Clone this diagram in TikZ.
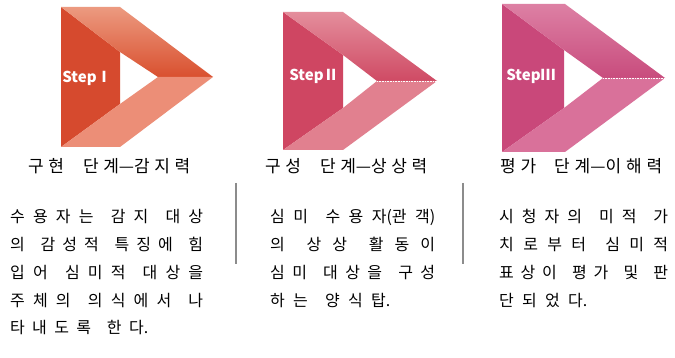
\documentclass[tikz,border=0pt]{standalone}
\usepackage{fontspec}
\setmainfont{Noto Sans CJK KR}
\newXeTeXintercharclass\hangulclass
\newcount\hangulcode
\hangulcode="AC00
\loop
  \XeTeXcharclass\hangulcode=\hangulclass
  \ifnum\hangulcode<"D7A3 \advance\hangulcode by 1
\repeat
\XeTeXinterchartoks\hangulclass\hangulclass={\hskip 0pt plus 1pt\relax}
\newcommand{\spreadline}[2]{\makebox[#1][s]{\XeTeXinterchartokenstate=1 \spaceskip=5pt plus 1.5pt\relax #2}}

\definecolor{stepIdark}{HTML}{D64A2E}
\definecolor{stepIlight}{HTML}{EC9A80}
\definecolor{stepItip}{HTML}{D9502F}
\definecolor{stepIlow}{HTML}{EC8E77}
\definecolor{stepIIdark}{HTML}{CF4662}
\definecolor{stepIIlight}{HTML}{E48E9C}
\definecolor{stepIItip}{HTML}{CF4A64}
\definecolor{stepIIlow}{HTML}{E1808F}
\definecolor{stepIIIdark}{HTML}{C9487A}
\definecolor{stepIIIlight}{HTML}{DD80A4}
\definecolor{stepIIItip}{HTML}{C84C7D}
\definecolor{stepIIIlow}{HTML}{D9719A}
\definecolor{dividergray}{HTML}{8C8C8C}

\tikzset{
  steplabel/.style={text=white, font=\bfseries\fontsize{15}{15}\selectfont, inner sep=0pt},
  steptitle/.style={font=\fontsize{17}{20}\selectfont, inner sep=0pt, anchor=base west},
  bodyline/.style={font=\fontsize{16}{19}\selectfont, inner sep=0pt, anchor=base west},
  divider/.style={draw=dividergray, line width=1.6pt},
}

\begin{document}
\begin{tikzpicture}[x=1pt,y=-1pt]
\fill[white] (0,0) rectangle (675,358);
\useasboundingbox (0,0) rectangle (675,358);

% Step I
\fill[stepIdark] (61,7) -- (120,52) -- (120,104) -- (61,147) -- cycle;
\shade[top color=stepIlight, bottom color=stepItip] (61,7) -- (120,7) -- (213,77) -- (158,77) -- (120,52) -- cycle;
\fill[stepIlow] (61,147) -- (120,104) -- (158,77) -- (213,77) -- (120,147) -- cycle;
\node[steplabel] (stepI) at (87,78) {StepⅠ};

% Step II
\fill[stepIIdark] (283,12) -- (343,55) -- (343,108) -- (283,150) -- cycle;
\shade[top color=stepIIlight, bottom color=stepIItip] (283,12) -- (343,12) -- (437,81) -- (377,81) -- (343,55) -- cycle;
\fill[stepIIlow] (283,150) -- (343,108) -- (377,81) -- (437,81) -- (343,150) -- cycle;
\draw[white, densely dotted, line width=0.6pt] (377,81) -- (437,81);
\node[steplabel] (stepII) at (314,76) {StepⅡ};

% Step III
\fill[stepIIIdark] (502,4) -- (564,50) -- (564,108) -- (502,152) -- cycle;
\shade[top color=stepIIIlight, bottom color=stepIIItip] (502,4) -- (565,4) -- (665,78) -- (603,78) -- (564,50) -- cycle;
\fill[stepIIIlow] (502,152) -- (564,108) -- (603,78) -- (665,78) -- (565,152) -- cycle;
\draw[white, densely dotted, line width=0.6pt] (603,78) -- (665,78);
\node[steplabel] (stepIII) at (531,76) {StepⅢ};

% titles
\node[steptitle] (titleI) at (28,173) {\spreadline{162pt}{구현\hspace{10pt plus 2pt}단계—감지력}};
\node[steptitle] (titleII) at (265,173) {\spreadline{162pt}{구성\hspace{10pt plus 2pt}단계—상상력}};
\node[steptitle] (titleIII) at (500,173) {\spreadline{162pt}{평가\hspace{8pt plus 2pt}단계—이해력}};

% dividers
\draw[divider] (236,183) -- (236,264);
\draw[divider] (463,183) -- (463,264);

% column 1
\node[bodyline] (textIa) at (10,223) {\spreadline{193pt}{수용자는 감지 대상}};
\node[bodyline] (textIb) at (10,251) {\spreadline{193pt}{의 감성적 특징에 힘}};
\node[bodyline] (textIc) at (10,279) {\spreadline{193pt}{입어 심미적 대상을}};
\node[bodyline] (textId) at (10,306) {\spreadline{193pt}{주체의 의식에서 나}};
\node[bodyline] (textIe) at (10,334) {\spreadline{138pt}{타내도록 한다.}};

% column 2
\node[bodyline] (textIIa) at (270,223) {\spreadline{165pt}{심미 수용자(관객)}};
\node[bodyline] (textIIb) at (270,251) {\spreadline{165pt}{의 상상 활동이}};
\node[bodyline] (textIIc) at (270,279) {\spreadline{165pt}{심미 대상을 구성}};
\node[bodyline] (textIId) at (270,306) {\spreadline{120pt}{하는 양식탑.}};

% column 3
\node[bodyline] (textIIIa) at (499,223) {\spreadline{169pt}{시청자의 미적 가}};
\node[bodyline] (textIIIb) at (499,251) {\spreadline{169pt}{치로부터 심미적}};
\node[bodyline] (textIIIc) at (499,279) {\spreadline{169pt}{표상이 평가 및 판}};
\node[bodyline] (textIIId) at (499,306) {\spreadline{88pt}{단되었다.}};

\end{tikzpicture}
\end{document}
